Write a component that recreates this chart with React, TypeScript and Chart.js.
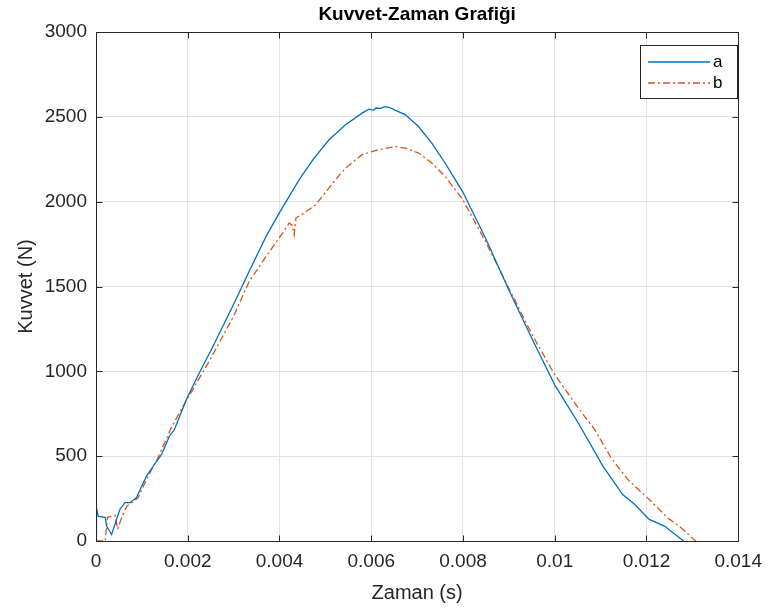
import React, { useEffect, useRef } from "react";
import { Chart, registerables } from "chart.js";

Chart.register(...registerables);

// Time values (ms) and force values (N)
const timeA = [0, 0.01, 0.05, 0.2, 0.23, 0.34, 0.52, 0.63, 0.74, 0.88, 1.1, 1.32, 1.43, 1.6, 1.71, 1.97, 2.25, 2.5, 3.0, 3.34, 3.71, 4.0, 4.43, 4.75, 5.08, 5.44, 5.8, 5.95, 6.05, 6.1, 6.2, 6.3, 6.4, 6.53, 6.74, 7.03, 7.32, 7.61, 7.83, 8.0, 8.5, 9.0, 9.5, 10.0, 10.51, 11.05, 11.48, 11.74, 12.06, 12.39, 12.81];
const forceA = [0, 195, 145, 140, 88, 38, 186, 226, 226, 255, 383, 470, 510, 618, 657, 834, 990, 1120, 1395, 1590, 1797, 1935, 2130, 2255, 2365, 2453, 2522, 2545, 2538, 2552, 2550, 2560, 2555, 2538, 2513, 2443, 2345, 2228, 2130, 2055, 1780, 1480, 1195, 920, 697, 441, 274, 216, 127, 88, 0];

const timeB = [0, 0.2, 0.25, 0.42, 0.47, 0.55, 0.67, 0.92, 1.1, 1.35, 1.64, 1.9, 2.5, 3.0, 3.34, 3.71, 4.07, 4.21, 4.28, 4.32, 4.36, 4.54, 4.79, 5.22, 5.44, 5.8, 6.16, 6.53, 6.74, 7.03, 7.32, 7.61, 8.0, 8.5, 9.0, 9.5, 10.0, 10.51, 10.87, 11.23, 11.59, 12.06, 12.46, 12.75, 13.07];
const forceB = [0, 0, 140, 150, 70, 130, 205, 255, 363, 490, 667, 795, 1075, 1325, 1530, 1678, 1816, 1874, 1860, 1805, 1905, 1934, 1982, 2129, 2198, 2277, 2307, 2325, 2316, 2287, 2228, 2149, 2010, 1760, 1490, 1220, 980, 785, 657, 490, 363, 245, 137, 79, 0];

const seriesNames = ["a", "b"];
const xTicks = [0, 0.002, 0.004, 0.006, 0.008, 0.01, 0.012, 0.014];
const yTicks = [0, 500, 1000, 1500, 2000, 2500, 3000];
const titleText = "Kuvvet-Zaman Grafiği";
const xTitle = "Zaman (s)";
const yTitle = "Kuvvet (N)";

const BLUE = "#0072BD";
const ORANGE = "#D95319";
const AXIS = "#262626";
const FONT = '"Liberation Sans", Arial, Helvetica, sans-serif';
const DASH = [7, 3, 2, 3];

const toPoints = (t: number[], f: number[]) => t.map((v, i) => ({ x: v / 1000, y: f[i] }));

const decorPlugin = {
  id: "decor",
  beforeDraw(chart: any) {
    const ctx = chart.ctx;
    ctx.save();
    ctx.fillStyle = "#ffffff";
    ctx.fillRect(0, 0, chart.width, chart.height);
    ctx.restore();
  },
  afterDraw(chart: any) {
    const ctx = chart.ctx;
    const a = chart.chartArea;
    const xs = chart.scales.x;
    const ys = chart.scales.y;
    ctx.save();
    // box
    ctx.strokeStyle = AXIS;
    ctx.lineWidth = 1;
    ctx.setLineDash([]);
    const L = Math.round(a.left) + 0.5;
    const R = Math.round(a.right) + 0.5;
    const T = Math.round(a.top) + 0.5;
    const B = Math.round(a.bottom) + 0.5;
    ctx.strokeRect(L, T, R - L, B - T);
    const tl = 6;
    ctx.beginPath();
    xTicks.forEach((v) => {
      const px = Math.round(xs.getPixelForValue(v)) + 0.5;
      ctx.moveTo(px, B);
      ctx.lineTo(px, B - tl);
      ctx.moveTo(px, T);
      ctx.lineTo(px, T + tl);
    });
    yTicks.forEach((v) => {
      const py = Math.round(ys.getPixelForValue(v)) + 0.5;
      ctx.moveTo(L, py);
      ctx.lineTo(L + tl, py);
      ctx.moveTo(R, py);
      ctx.lineTo(R - tl, py);
    });
    ctx.stroke();

    const cx = (a.left + a.right) / 2;
    // title
    ctx.fillStyle = "#000000";
    ctx.font = `bold 19px ${FONT}`;
    ctx.textAlign = "center";
    ctx.textBaseline = "alphabetic";
    ctx.fillText(titleText, cx, 20);
    // axis titles
    ctx.fillStyle = AXIS;
    ctx.font = `20px ${FONT}`;
    ctx.fillText(xTitle, cx, 599);
    ctx.save();
    ctx.translate(26, (a.top + a.bottom) / 2);
    ctx.rotate(-Math.PI / 2);
    ctx.textBaseline = "middle";
    ctx.fillText(yTitle, 0, 0);
    ctx.restore();

    // legend
    const lx = 640.5, ly = 45.5, lw = 97, lh = 53;
    ctx.fillStyle = "#ffffff";
    ctx.fillRect(lx, ly, lw, lh);
    ctx.strokeStyle = AXIS;
    ctx.lineWidth = 1;
    ctx.strokeRect(lx, ly, lw, lh);
    const rows = [
      { y: 62, color: BLUE, dash: [] as number[] },
      { y: 83, color: ORANGE, dash: DASH },
    ];
    rows.forEach((r, i) => {
      ctx.beginPath();
      ctx.strokeStyle = r.color;
      ctx.lineWidth = 1.3;
      ctx.setLineDash(r.dash);
      ctx.moveTo(648, r.y);
      ctx.lineTo(710, r.y);
      ctx.stroke();
      ctx.setLineDash([]);
      ctx.fillStyle = "#000000";
      ctx.font = `17px ${FONT}`;
      ctx.textAlign = "left";
      ctx.textBaseline = "middle";
      ctx.fillText(seriesNames[i], 713, r.y);
    });
    ctx.restore();
  },
};

export default function App() {
  const ref = useRef<HTMLCanvasElement | null>(null);
  useEffect(() => {
    if (!ref.current) return;
    const chart = new Chart(ref.current, {
      type: "scatter",
      data: {
        datasets: [
          {
            label: seriesNames[0],
            data: toPoints(timeA, forceA),
            showLine: true,
            borderColor: BLUE,
            backgroundColor: BLUE,
            borderWidth: 1.3,
            pointRadius: 0,
            tension: 0,
          },
          {
            label: seriesNames[1],
            data: toPoints(timeB, forceB),
            showLine: true,
            borderColor: ORANGE,
            backgroundColor: ORANGE,
            borderWidth: 1.3,
            borderDash: DASH,
            pointRadius: 0,
            tension: 0,
          },
        ],
      },
      options: {
        responsive: false,
        animation: false,
        devicePixelRatio: 1,
        layout: { padding: { top: 32, right: 28, left: 0, bottom: 0 } },
        plugins: { legend: { display: false }, title: { display: false }, tooltip: { enabled: false } },
        scales: {
          x: {
            type: "linear",
            min: 0,
            max: 0.014,
            afterBuildTicks: (s: any) => {
              s.ticks = xTicks.map((v) => ({ value: v }));
            },
            afterFit: (s: any) => {
              s.height = 71;
            },
            ticks: {
              font: { family: FONT, size: 19 },
              color: AXIS,
              padding: 9,
              maxRotation: 0,
              autoSkip: false,
              callback: (v: any) => String(Number(Number(v).toFixed(3))),
            },
            grid: { color: "#e3e3e3", drawTicks: false },
            border: { display: false },
          },
          y: {
            type: "linear",
            min: 0,
            max: 3000,
            afterBuildTicks: (s: any) => {
              s.ticks = yTicks.map((v) => ({ value: v }));
            },
            afterFit: (s: any) => {
              s.width = 96;
            },
            ticks: {
              font: { family: FONT, size: 19 },
              color: AXIS,
              padding: 9,
              autoSkip: false,
              callback: (v: any) => String(v),
            },
            grid: { color: "#e3e3e3", drawTicks: false },
            border: { display: false },
          },
        },
      },
      plugins: [decorPlugin],
    } as any);
    return () => chart.destroy();
  }, []);
  return (
    <div style={{ position: "fixed", left: 0, top: 0, width: 771, height: 612, background: "#fff" }}>
      <canvas ref={ref} width={771} height={612} style={{ display: "block", width: 771, height: 612 }} />
    </div>
  );
}
